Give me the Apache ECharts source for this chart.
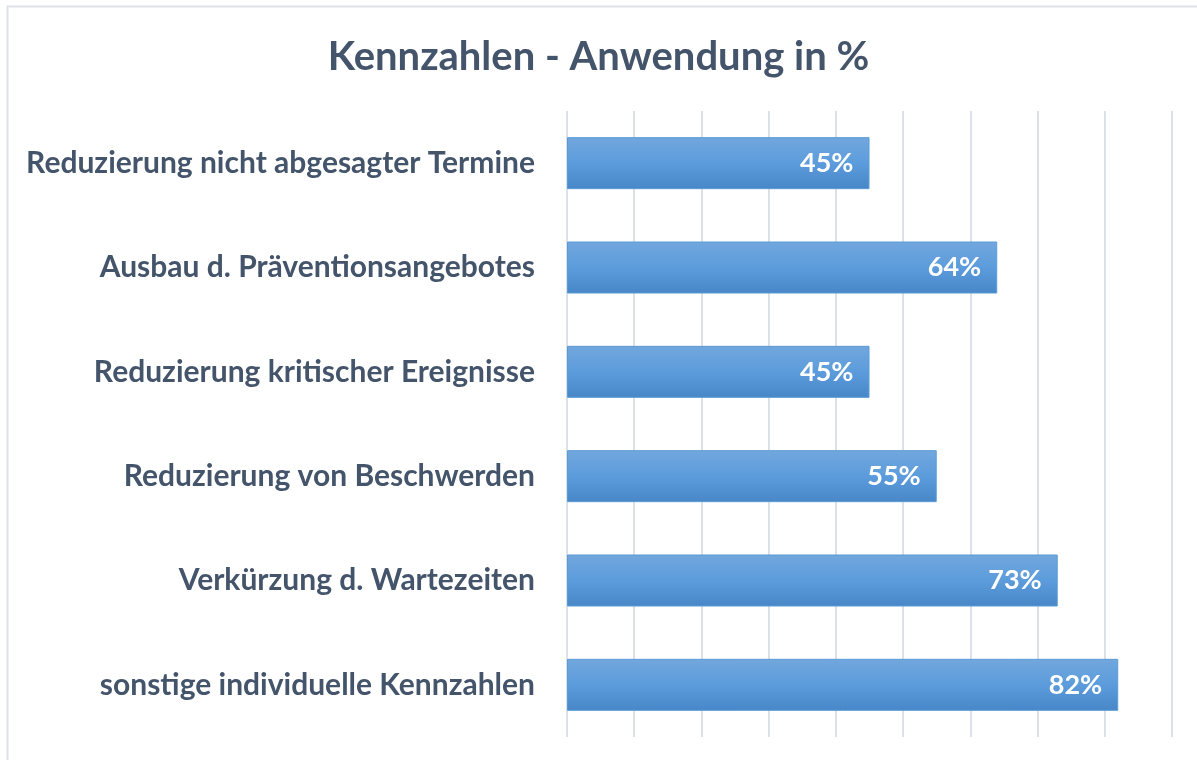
<html>
<head>
	<meta charset="utf-8">
	<title>Kennzahlen</title>
	<script src="https://cdn.jsdelivr.net/npm/echarts@6/dist/echarts.min.js"></script>
	<style type="text/css">
		html, body { margin: 0; padding: 0; background: #fff; }
	</style>
</head>
	<body>
		<div id="eCharts-container" style="width:1197px;height:760px"></div>
	<script type="text/javascript">
		// Kategorien von oben nach unten
		var categories = [
			'Reduzierung nicht abgesagter Termine',
			'Ausbau d. Präventionsangebotes',
			'Reduzierung kritischer Ereignisse',
			'Reduzierung von Beschwerden',
			'Verkürzung d. Wartezeiten',
			'sonstige individuelle Kennzahlen'
		];
		var values = [45, 64, 45, 55, 73, 82];

		var fontName = 'Lato, "Open Sans", sans-serif';
		var textColor = '#44546A';

		var myChart = echarts.init(document.getElementById('eCharts-container'));
		var option = {
			animation: false,
			title: {
				text: 'Kennzahlen - Anwendung in %',
				left: 'center',
				top: 32,
				textStyle: { fontFamily: fontName, fontSize: 40, fontWeight: 'bold', color: textColor }
			},
			graphic: [{
				type: 'rect',
				shape: { x: 7.5, y: 6.5, width: 1300, height: 900 },
				style: { fill: 'none', stroke: '#DDE2E8', lineWidth: 2 },
				silent: true
			}],
			grid: { left: 567, right: 25, top: 111, bottom: 23 },
			xAxis: {
				type: 'value',
				min: 0,
				max: 90,
				interval: 10,
				axisLabel: { show: false },
				axisLine: { show: false },
				axisTick: { show: false },
				splitLine: { lineStyle: { color: '#DCE1E8', width: 2 } }
			},
			yAxis: {
				type: 'category',
				inverse: true,
				data: categories,
				axisLine: { show: false },
				axisTick: { show: false },
				axisLabel: {
					margin: 32,
					fontFamily: fontName,
					fontSize: 30,
					fontWeight: 'bold',
					color: textColor
				}
			},
			series: [{
				type: 'bar',
				data: values,
				barWidth: 52,
				itemStyle: {
					color: new echarts.graphic.LinearGradient(0, 0, 0, 1, [
						{ offset: 0, color: '#72A7DD' },
						{ offset: 0.5, color: '#5C9CDC' },
						{ offset: 1, color: '#4787C8' }
					]),
					borderColor: '#5B9BD5',
					borderWidth: 1
				},
				label: {
					show: true,
					position: 'insideRight',
					distance: 16,
					formatter: '{c}%',
					fontFamily: fontName,
					fontSize: 27,
					fontWeight: 'bold',
					color: '#fff'
				}
			}]
		};
		myChart.setOption(option);
	</script>
	</body>
</html>
